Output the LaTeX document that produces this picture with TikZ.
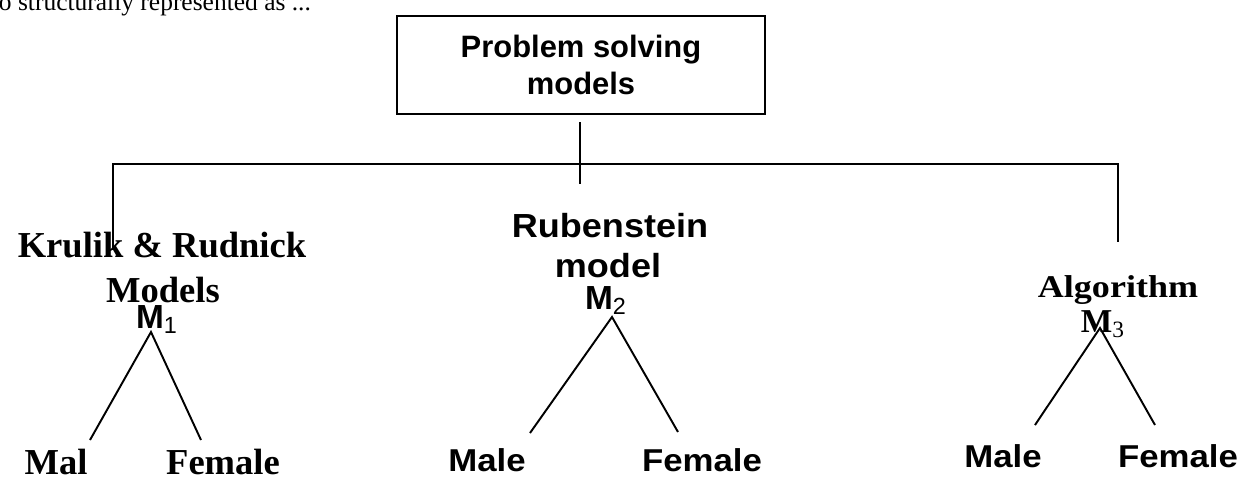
\documentclass[tikz,border=0pt]{standalone}
\usepackage{fontspec}
\setmainfont{Liberation Serif}
\setsansfont{Liberation Sans}
\usetikzlibrary{positioning}

\begin{document}
\begin{tikzpicture}[x=0.02cm,y=-0.02cm,line width=1.1pt,
	topbox/.style={draw,line width=1.2pt,minimum width=7.36cm,minimum height=1.96cm,align=center,
		font=\sffamily\bfseries\fontsize{17.6}{21}\selectfont},
	seriflabel/.style={anchor=base,inner sep=0pt,font=\bfseries\fontsize{20.8}{24}\selectfont},
	sanslabel/.style={anchor=base,inner sep=0pt,transform shape,xscale=1.08,
		font=\sffamily\bfseries\fontsize{19}{22}\selectfont},
	algolabel/.style={anchor=base,inner sep=0pt,transform shape,xscale=1.14,
		font=\bfseries\fontsize{18}{21}\selectfont},
	msans/.style={anchor=base,inner sep=0pt,font=\sffamily\bfseries\fontsize{19}{22}\selectfont},
	leafsans/.style={anchor=base,inner sep=0pt,transform shape,xscale=1.1,
		font=\sffamily\bfseries\fontsize{18}{22}\selectfont}]
		
		\useasboundingbox (0,0) rectangle (1245,478);
		\clip (0,0) rectangle (1245,478);
		
		\node[anchor=base west,inner sep=0pt,font=\fontsize{14.5}{17}\selectfont] (frag)
		at (-2,10) {o structurally represented as ...};
		
		\node[topbox] (root)
		at (581,65)
		{Problem solving\\models};
		
		% bracket
		\coordinate (stemtop) at (580,122);
		\coordinate (stembot) at (580,184);
		\coordinate (lcorner) at (113,164);
		\coordinate (lend) at (113,250);
		\coordinate (rcorner) at (1118,164);
		\coordinate (rend) at (1118,242);
		\draw (stemtop)--(stembot);
		\draw (lend)--(lcorner)--(rcorner)--(rend);
		
		% model 1
		\node[seriflabel] (krulik) at (162,257) {Krulik \& Rudnick};
		\node[seriflabel] (kmodels) at (163,302) {Models};
		\node[msans] (m1) at (157,328) {M\textsubscript{\mdseries 1}};
		\coordinate (apex1) at (151,332);
		\coordinate (left1) at (90,440);
		\coordinate (right1) at (201,440);
		\draw (left1)--(apex1)--(right1);
		\node[seriflabel] (male1) at (56,474) {Mal};
		\node[seriflabel] (female1) at (223,474) {Female};
		
		% model 2
		\node[sanslabel] (ruben) at (610,237) {Rubenstein};
		\node[sanslabel] (rmodel) at (608,277) {model};
		\node[msans] (m2) at (606,309) {M\textsubscript{\mdseries 2}};
		\coordinate (apex2) at (612,317);
		\coordinate (left2) at (530,433);
		\coordinate (right2) at (678,432);
		\draw (left2)--(apex2)--(right2);
		\node[leafsans] (male2) at (487,471) {Male};
		\node[leafsans] (female2) at (702,471) {Female};
		
		% model 3
		\node[algolabel] (algo) at (1118,297) {Algorithm};
		\node[anchor=base,inner sep=0pt,font=\bfseries\fontsize{19}{22}\selectfont] (m3)
		at (1103,332) {M\textsubscript{\mdseries 3}};
		\coordinate (apex3) at (1100,328);
		\coordinate (left3) at (1035,425);
		\coordinate (right3) at (1155,425);
		\draw (left3)--(apex3)--(right3);
		\node[leafsans] (male3) at (1003,467) {Male};
		\node[leafsans] (female3) at (1178,467) {Female};
		
	\end{tikzpicture}
\end{document}
